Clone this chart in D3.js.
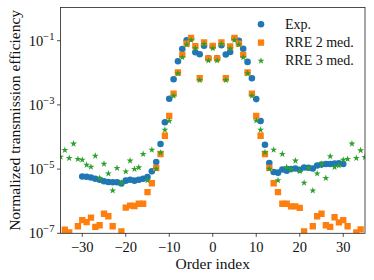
<!DOCTYPE html>
<html>
<head>
<meta charset="utf-8">
<script src="https://cdn.jsdelivr.net/npm/d3@7"></script>
<style>
  body { margin: 0; background: #fff; }
  svg { display: block; }
  text { font-family: "Liberation Serif", "DejaVu Serif", serif; fill: #111; }
</style>
</head>
<body>
<svg id="chart" width="374" height="280"></svg>
<script>
// orders -35..35
const orders = d3.range(-35, 36);

// log10 of normalized efficiency
// experimental data only from -30 to 30
const expOrders = d3.range(-30, 31);
const expLog = [
  -5.23, -5.24, -5.26, -5.30, -5.33, -5.38, -5.40, -5.41, -5.41, -5.45,
  -5.36, -5.33, -5.36, -5.33, -5.30, -5.25, -5.07, -4.78, -4.22, -3.54,
  -2.81, -2.20, -1.64, -1.26, -0.99, -0.93, -1.36, -1.42, -1.16, -1.55,
  -1.18,
  -1.55, -1.14, -1.43, -1.35, -0.93, -1.00, -1.25, -1.66, -2.17, -2.82,
  -3.50, -4.24, -4.81, -5.09, -5.11, -5.01, -5.05, -5.00, -4.98, -5.02,
  -4.95, -4.96, -4.98, -4.89, -4.86, -4.84, -4.84, -4.83, -4.82, -4.84
];

const rre2Log = [
  -7.10, -6.89, -6.97, -7.30, -6.78, -6.59, -6.65, -6.51, -6.80, -6.75,
  -6.39, -6.47, -6.78, -7.30, -6.94, -6.20, -6.14, -6.15, -6.08, -6.08,
  -5.72, -5.44, -4.96, -4.53, -3.96, -3.34, -2.65, -1.99, -1.44, -1.09,
  -0.91, -1.17, -2.17, -1.05, -1.55,
  -1.16,
  -1.55, -1.05, -2.17, -1.18, -0.91, -1.09, -1.44, -1.99, -2.65, -3.34,
  -3.96, -4.53, -4.96, -5.44, -5.72, -6.08, -6.08, -6.16, -6.16, -6.21,
  -6.94, -7.30, -6.78, -6.47, -6.39, -6.75, -6.80, -6.50, -6.66, -6.59,
  -6.78, -7.30, -6.97, -6.88, -7.10
];

const rre3Log = [
  -4.62, -4.41, -4.66, -4.21, -4.69, -4.71, -4.87, -4.93, -4.59, -5.28,
  -4.84, -5.14, -5.67, -4.97, -5.43, -5.08, -4.74, -5.00, -4.95, -4.53,
  -5.35, -4.40, -4.99, -4.49, -3.78, -3.50, -2.72, -2.02, -1.52, -1.12,
  -0.98, -1.24, -2.23, -1.11, -1.62,
  -1.24,
  -1.62, -1.11, -2.23, -1.25, -0.98, -1.12, -1.52, -2.02, -2.72, -3.49,
  -3.78, -4.48, -4.99, -4.40, -5.35, -4.53, -4.94, -5.00, -4.74, -5.07,
  -5.43, -4.97, -5.67, -5.14, -4.84, -5.28, -4.60, -4.94, -4.89, -4.71,
  -4.69, -4.21, -4.66, -4.42, -4.63
];

const xTicks = [-30, -20, -10, 0, 10, 20, 30];
const yTickExps = [-7, -5, -3, -1];
const legendLabels = ["Exp.", "RRE 2 med.", "RRE 3 med."];
const colors = ["#1f77b4", "#ff7f0e", "#2ca02c"];

const svg = d3.select('#chart');
const plotLeft = 60.5, plotRight = 365, plotTop = 7.5, plotBottom = 233.3;

const x = d3.scaleLinear().domain([-35, 35]).range([plotLeft, plotRight]);
const y = d3.scaleLog().domain([1e-7, Math.pow(10, 0.034)]).range([plotBottom, plotTop]);

svg.append('defs').append('clipPath').attr('id', 'plotclip')
  .append('rect')
  .attr('x', plotLeft).attr('y', plotTop)
  .attr('width', plotRight - plotLeft).attr('height', plotBottom - plotTop);

const series = [
  { xs: expOrders, ys: expLog, shape: d3.symbolCircle, size: 34 },
  { xs: orders, ys: rre2Log, shape: d3.symbolSquare, size: 40 },
  { xs: orders, ys: rre3Log, shape: d3.symbolStar, size: 15 }
];

const marks = svg.append('g').attr('clip-path', 'url(#plotclip)');
series.forEach((s, i) => {
  const pts = s.xs.map((o, k) => ({ o: o, v: Math.pow(10, s.ys[k]) }));
  marks.append('g').selectAll('path')
    .data(pts)
    .enter()
    .append('path')
    .attr('d', d3.symbol().type(s.shape).size(s.size))
    .attr('transform', d => `translate(${x(d.o)},${y(d.v)})`)
    .attr('fill', colors[i]);
});

// frame
svg.append('rect')
  .attr('x', plotLeft).attr('y', plotTop)
  .attr('width', plotRight - plotLeft).attr('height', plotBottom - plotTop)
  .attr('fill', 'none').attr('stroke', '#222').attr('stroke-width', 0.8);

// x axis
const xAxis = svg.append('g');
xAxis.selectAll('line').data(xTicks).enter().append('line')
  .attr('x1', d => x(d)).attr('x2', d => x(d))
  .attr('y1', plotBottom).attr('y2', plotBottom + 3.5)
  .attr('stroke', '#222').attr('stroke-width', 0.8);
xAxis.selectAll('text').data(xTicks).enter().append('text')
  .attr('x', d => x(d)).attr('y', plotBottom + 18.5)
  .attr('text-anchor', 'middle')
  .attr('font-size', 14.5)
  .text(d => d < 0 ? '\u2212' + Math.abs(d) : d);

// y axis
const yAxis = svg.append('g');
yAxis.selectAll('line').data(yTickExps).enter().append('line')
  .attr('x1', plotLeft - 3.5).attr('x2', plotLeft)
  .attr('y1', d => y(Math.pow(10, d))).attr('y2', d => y(Math.pow(10, d)))
  .attr('stroke', '#222').attr('stroke-width', 0.8);
const yl = yAxis.selectAll('text').data(yTickExps).enter().append('text')
  .attr('x', plotLeft - 6).attr('y', d => y(Math.pow(10, d)) + 5)
  .attr('text-anchor', 'end')
  .attr('font-size', 14.5);
yl.append('tspan').text('10');
yl.append('tspan').attr('font-size', 10.5).attr('dy', -6)
  .text(d => '\u2212' + Math.abs(d));

// axis titles
svg.append('text')
  .attr('x', (plotLeft + plotRight) / 2).attr('y', 268.5)
  .attr('text-anchor', 'middle').attr('font-size', 15.5)
  .text('Order index');
svg.append('text')
  .attr('transform', `translate(20,${(plotTop + plotBottom) / 2}) rotate(-90)`)
  .attr('text-anchor', 'middle').attr('font-size', 15.5)
  .text('Normalized transmission efficiency');

// legend
const legend = svg.append('g');
legendLabels.forEach((lab, i) => {
  const ly = 24.3 + i * 18.3;
  legend.append('path')
    .attr('d', d3.symbol().type(series[i].shape).size(series[i].size))
    .attr('transform', `translate(261,${ly})`)
    .attr('fill', colors[i]);
  legend.append('text')
    .attr('x', 285).attr('y', ly + 4.5)
    .attr('font-size', 14)
    .text(lab);
});
</script>
</body>
</html>
